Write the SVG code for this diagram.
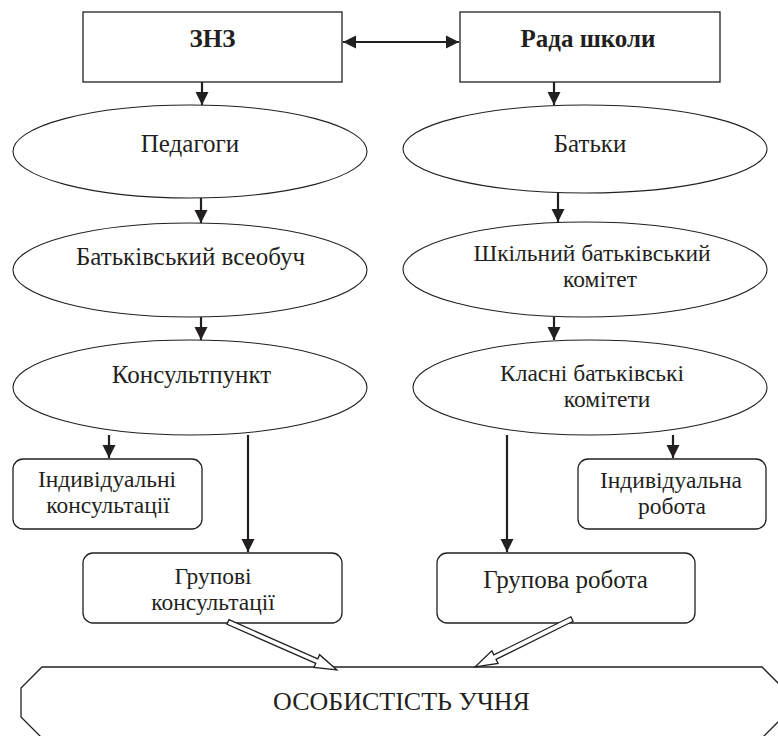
<svg xmlns="http://www.w3.org/2000/svg" width="778" height="736" viewBox="0 0 778 736">
<defs>
<style>
.box{fill:#fff;stroke:#231f20;stroke-width:1.3}
.ell{fill:#fff;stroke:#231f20;stroke-width:1.1}
.t{font-family:"Liberation Serif","Times New Roman",serif;font-size:25px;fill:#231f20;text-anchor:middle}
.m{font-size:23.5px}
.b{font-weight:bold}
.big{font-size:26px}
.c{stroke:#231f20;stroke-width:2.2;fill:none}
.hol{fill:#fff;stroke:#231f20;stroke-width:1.3;stroke-linejoin:miter}
</style>
<marker id="ah" markerUnits="userSpaceOnUse" markerWidth="14" markerHeight="14" refX="13" refY="7" orient="auto-start-reverse" viewBox="0 0 14 14">
<path d="M0,0.5 L13,7 L0,13.5 z" fill="#231f20"/>
</marker>
</defs>
<rect width="778" height="736" fill="#fff"/>

<g id="znz"><rect class="box" x="83" y="12" width="259" height="70"/><text class="t b" x="212.5" y="47">ЗНЗ</text></g>
<g id="rada"><rect class="box" x="460" y="12" width="260" height="70"/><text class="t b" x="588" y="47">Рада школи</text></g>

<g id="pedagogy"><ellipse class="ell" cx="190" cy="151.5" rx="177" ry="46.5"/><text class="t" x="190" y="152">Педагоги</text></g>
<g id="vseobuch"><ellipse class="ell" cx="190" cy="270" rx="177" ry="47"/><text class="t" x="190.5" y="265">Батьківський всеобуч</text></g>
<g id="konsultpunkt"><ellipse class="ell" cx="190" cy="387.5" rx="177" ry="47.5"/><text class="t" x="191.5" y="383">Консультпункт</text></g>

<g id="batky"><ellipse class="ell" cx="585" cy="149" rx="182" ry="44"/><text class="t" x="590" y="152">Батьки</text></g>
<g id="shkilnyi"><ellipse class="ell" cx="585" cy="269.5" rx="182" ry="47.5"/><text class="t m" x="592" y="261">Шкільний батьківський</text><text class="t m" x="600" y="287">комітет</text></g>
<g id="klasni"><ellipse class="ell" cx="590" cy="387.5" rx="177" ry="47.5"/><text class="t m" x="592" y="381">Класні батьківські</text><text class="t m" x="607" y="407">комітети</text></g>

<g id="ind-kons"><rect class="box" x="13" y="459" width="189" height="70" rx="10"/><text class="t m" x="107" y="487">Індивідуальні</text><text class="t m" x="108" y="513">консультації</text></g>
<g id="grup-kons"><rect class="box" x="83" y="553" width="259" height="70" rx="10"/><text class="t m" x="213" y="584">Групові</text><text class="t m" x="213" y="610">консультації</text></g>
<g id="ind-rob"><rect class="box" x="578" y="459" width="188" height="70" rx="10"/><text class="t m" x="671" y="488">Індивідуальна</text><text class="t m" x="672" y="514">робота</text></g>
<g id="grup-rob"><rect class="box" x="437" y="553" width="258" height="70" rx="10"/><text class="t" x="565.5" y="588">Групова робота</text></g>

<g id="osobystist"><polygon class="box" points="42,667 762,667 783,688 783,717 762,738 42,738 21,717 21,688"/><text class="t big" x="401.5" y="710">ОСОБИСТІСТЬ УЧНЯ</text></g>

<g id="connectors">
<line class="c" x1="343" y1="42" x2="459" y2="42" marker-start="url(#ah)" marker-end="url(#ah)"/>
<line class="c" x1="202" y1="82" x2="202" y2="105" marker-end="url(#ah)"/>
<line class="c" x1="554" y1="82" x2="554" y2="105" marker-end="url(#ah)"/>
<line class="c" x1="201" y1="198" x2="201" y2="223" marker-end="url(#ah)"/>
<line class="c" x1="201" y1="317" x2="201" y2="340" marker-end="url(#ah)"/>
<line class="c" x1="558" y1="193" x2="558" y2="222" marker-end="url(#ah)"/>
<line class="c" x1="554" y1="317" x2="554" y2="340" marker-end="url(#ah)"/>
<line class="c" x1="109" y1="435" x2="109" y2="458" marker-end="url(#ah)"/>
<line class="c" x1="248" y1="435" x2="248" y2="552" marker-end="url(#ah)"/>
<line class="c" x1="507" y1="435" x2="507" y2="552" marker-end="url(#ah)"/>
<line class="c" x1="673" y1="435" x2="673" y2="458" marker-end="url(#ah)"/>
<polygon class="hol" transform="translate(228,622) rotate(23.77)" points="0,-2.5 97,-2.5 97,-7 119,0 97,7 97,2.5 0,2.5"/>
<polygon class="hol" transform="translate(572,619) rotate(153.67)" points="0,-2.5 86,-2.5 86,-7 108,0 86,7 86,2.5 0,2.5"/>
</g>
</svg>
